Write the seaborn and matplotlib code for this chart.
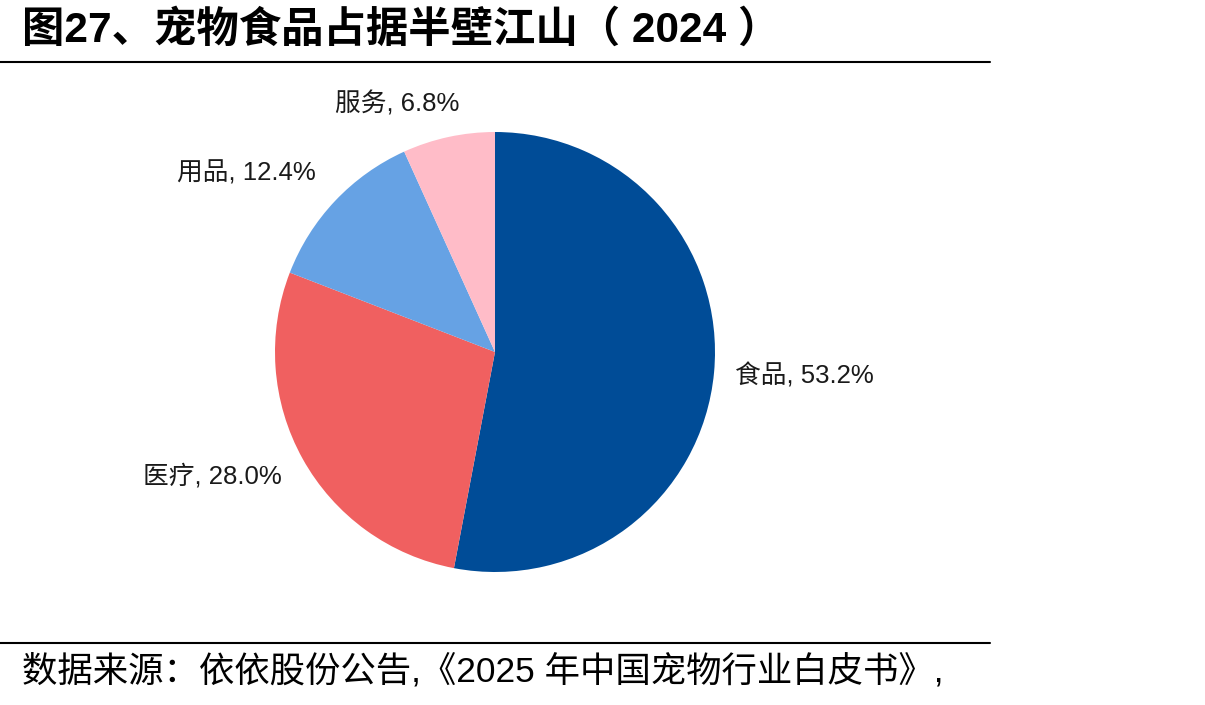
import matplotlib.pyplot as plt
import matplotlib.lines as mlines
import seaborn as sns

# 2024 pet industry revenue mix
categories = ["食品", "医疗", "用品", "服务"]
shares = [53.2, 28.0, 12.4, 6.8]
colors = ["#004C97", "#F06060", "#66A2E4", "#FFBCC8"]

sns.set_theme(style="white")
plt.rcParams['font.family'] = ['Liberation Sans', 'Noto Sans CJK SC', 'DejaVu Sans']

W, H = 1205, 705
fig = plt.figure(figsize=(W / 100, H / 100), dpi=100)

# pie axes: centre (495, 352) px, radius 220 px
cx, cy, r = 495, 352, 220
ax = fig.add_axes([(cx - r) / W, (H - cy - r) / H, 2 * r / W, 2 * r / H])
ax.pie(shares, colors=colors, startangle=90, counterclock=False, radius=1,
       wedgeprops=dict(linewidth=0))
ax.set_xlim(-1, 1)
ax.set_ylim(-1, 1)
ax.set_aspect('equal')
ax.axis('off')

# label anchors (data units of the pie axes)
label_pos = {
    "食品": (1.09, -0.109, 'left'),
    "医疗": (-0.968, -0.564, 'right'),
    "用品": (-0.814, 0.814, 'right'),
    "服务": (-0.445, 1.127, 'center'),
}
for cat, val in zip(categories, shares):
    x, y, ha = label_pos[cat]
    ax.text(x, y, f"{cat}, {val:.1f}%", ha=ha, va='center', fontsize=18.5,
            color='#1a1a1a', clip_on=False)

# title and rules
fig.text(22 / W, 1 - 30 / H, "图27、宠物食品占据半壁江山（ 2024 ）", fontsize=30.5,
         fontweight='bold', ha='left', va='center', color='black')
fig.add_artist(mlines.Line2D([0, 990 / W], [1 - 62 / H, 1 - 62 / H],
                             color='black', linewidth=1.5))
fig.add_artist(mlines.Line2D([0, 990 / W], [1 - 643 / H, 1 - 643 / H],
                             color='black', linewidth=1.5))
fig.text(22 / W, 1 - 671 / H, "数据来源：依依股份公告,《2025 年中国宠物行业白皮书》,",
         fontsize=25.5, ha='left', va='center', color='black')

fig.savefig("out.png", dpi=100)
